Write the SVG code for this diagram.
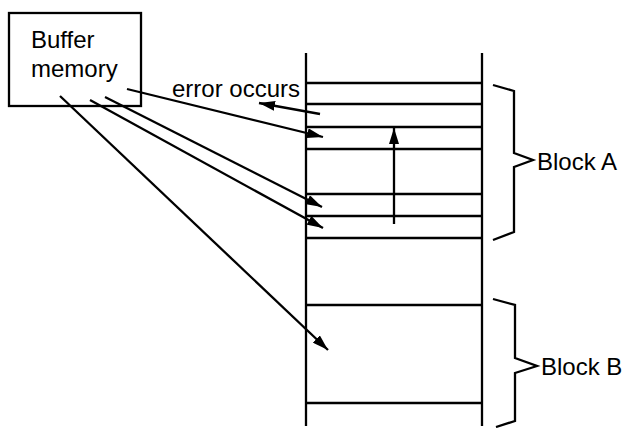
<svg xmlns="http://www.w3.org/2000/svg" width="624" height="428" viewBox="0 0 624 428">
<style>
.ln{stroke:#000;stroke-width:2.3;fill:none}
.t{font-family:"Liberation Sans",Arial,sans-serif;font-size:24px;fill:#000}
</style>
<defs>
<marker id="ah" viewBox="0 0 16 10" refX="16" refY="5" markerWidth="16" markerHeight="10" markerUnits="userSpaceOnUse" orient="auto">
<path d="M0,0 L16,5 L0,10 Z" fill="#000"/>
</marker>
</defs>
<rect width="624" height="428" fill="#fff"/>
<g id="buffer">
<rect x="9" y="13" width="132" height="93" class="ln"/>
<text class="t" x="31" y="48">Buffer</text>
<text class="t" x="31" y="77">memory</text>
</g>
<g id="column">
<line x1="306" y1="53" x2="306" y2="426" class="ln"/>
<line x1="482" y1="53" x2="482" y2="426" class="ln"/>
<line x1="306" y1="83" x2="482" y2="83" class="ln"/>
<line x1="306" y1="104" x2="482" y2="104" class="ln"/>
<line x1="306" y1="127" x2="482" y2="127" class="ln"/>
<line x1="306" y1="149" x2="482" y2="149" class="ln"/>
<line x1="306" y1="194" x2="482" y2="194" class="ln"/>
<line x1="306" y1="216" x2="482" y2="216" class="ln"/>
<line x1="306" y1="238" x2="482" y2="238" class="ln"/>
<line x1="306" y1="305" x2="482" y2="305" class="ln"/>
<line x1="306" y1="403" x2="482" y2="403" class="ln"/>
</g>
<g id="blockA">
<path d="M493,85 L514,91 L514,153 L533,160 L514,167 L514,232 L493,240" class="ln"/>
<text class="t" x="537" y="170">Block A</text>
</g>
<g id="blockB">
<path d="M493,299 L515,305 L515,358 L537,366 L515,373 L515,421 L496,427" class="ln"/>
<text class="t" x="541" y="375">Block B</text>
</g>
<g id="label">
<text class="t" x="172" y="97">error occurs</text>
</g>
<g id="connectors">
<line x1="127" y1="89" x2="323" y2="137" class="ln" marker-end="url(#ah)"/>
<line x1="320" y1="114" x2="259" y2="103" class="ln" marker-end="url(#ah)"/>
<line x1="105" y1="97" x2="322" y2="207" class="ln" marker-end="url(#ah)"/>
<line x1="90" y1="100" x2="323" y2="228" class="ln" marker-end="url(#ah)"/>
<line x1="60" y1="96" x2="328" y2="350" class="ln" marker-end="url(#ah)"/>
<line x1="394" y1="224" x2="394" y2="128" class="ln" marker-end="url(#ah)"/>
</g>
</svg>
